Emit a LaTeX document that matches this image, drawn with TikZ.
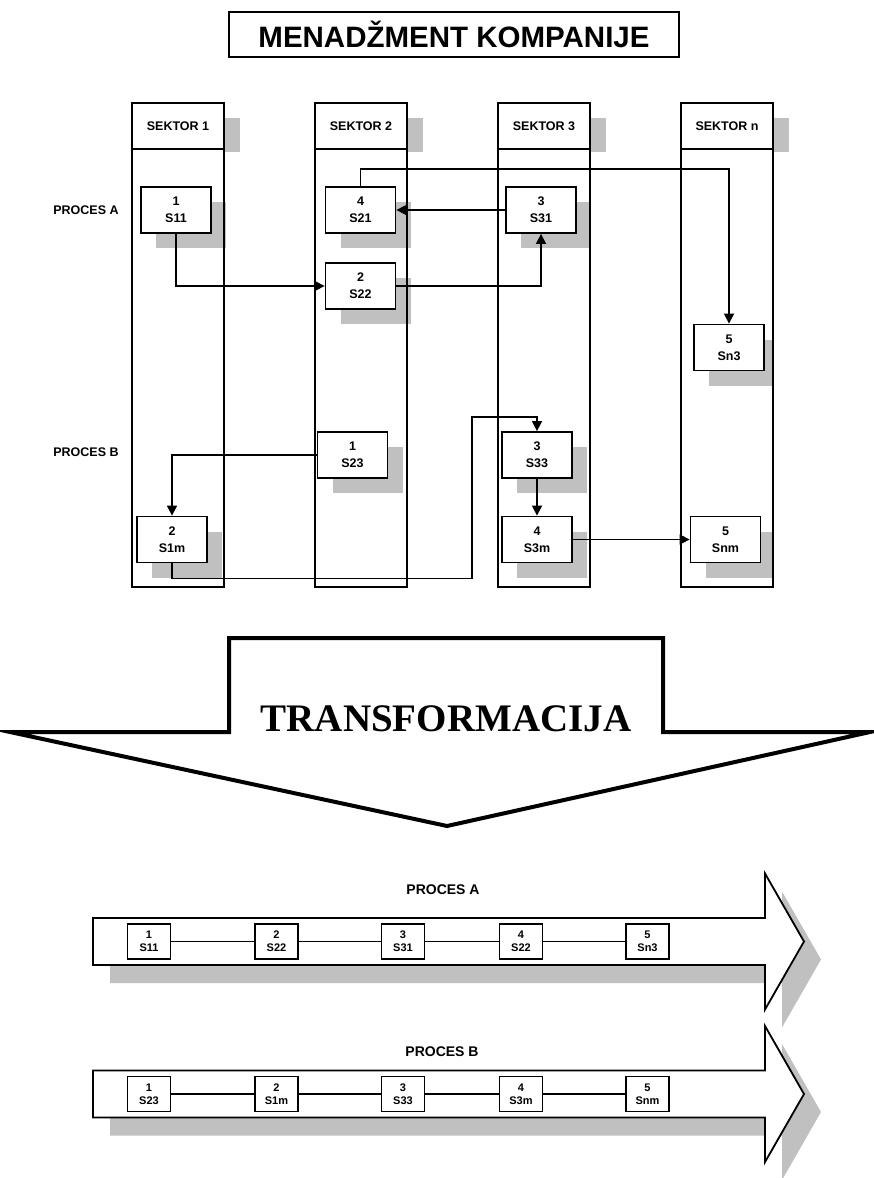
\documentclass[tikz,border=0pt]{standalone}
\usepackage{fontspec}
\setmainfont{Liberation Sans}
\newfontfamily\serifb{Liberation Serif}
\usetikzlibrary{arrows.meta,calc,shadows}
\definecolor{shadowgray}{HTML}{C0C0C0}
\begin{document}
\begin{tikzpicture}[x=1pt,y=-1pt,
 hdr/.style={draw, line width=2pt, fill=white, minimum width=92pt, minimum height=46pt, inner sep=0pt, font=\bfseries\fontsize{12.5}{15}\selectfont},
 sbox/.style={draw, line width=1.8pt, fill=white, minimum width=70pt, minimum height=46pt, inner sep=0pt, align=center, font=\bfseries\fontsize{12.5}{17}\selectfont,
   drop shadow={shadow xshift=15pt, shadow yshift=-15pt, fill=shadowgray, opacity=1}},
 pbox/.style={draw, line width=1.8pt, fill=white, minimum width=43pt, minimum height=35pt, inner sep=0pt, align=center, font=\bfseries\fontsize{11}{13}\selectfont},
 conn/.style={line width=1.6pt, -{Triangle[length=10pt,width=10pt]}},
 link/.style={line width=1.3pt},
 lbl/.style={font=\bfseries\fontsize{12.5}{15}\selectfont},
 plbl/.style={font=\bfseries\fontsize{14}{16}\selectfont},
 col/.style={line width=2.6pt},
 shade/.style={fill=shadowgray, draw=none},
]
\useasboundingbox (0,0) rectangle (873,1178);

% title
\node[draw, line width=2.5pt, minimum width=450pt, minimum height=45pt, inner sep=0pt,
  font=\bfseries\fontsize{29.5}{31}\selectfont] (title) at (454,34.5) {MENADŽMENT KOMPANIJE};

% sector columns
\foreach \cx/\t/\n in {178/SEKTOR 1/h1, 361/SEKTOR 2/h2, 544/SEKTOR 3/h3, 727/SEKTOR n/hn} {
  \fill[shade] (\cx-30,118) rectangle (\cx+62,152);
  \draw[col, fill=white] (\cx-46,149) rectangle (\cx+46,587);
  \node[hdr] (\n) at (\cx,126) {\t};
}

% process labels
\node[lbl] (pa) at (86,210) {PROCES A};
\node[lbl] (pb) at (86,452) {PROCES B};

% boxes
\node[sbox] (s11) at (176,210) {1\\S11};
\node[sbox] (s21) at (360.5,210) {4\\S21};
\node[sbox] (s22) at (360.5,286) {2\\S22};
\node[sbox] (s31) at (541,210) {3\\S31};
\node[sbox] (sn3) at (729,347.5) {5\\Sn3};
\node[sbox] (s23) at (352.5,455) {1\\S23};
\node[sbox] (s1m) at (172,539.5) {2\\S1m};
\node[sbox] (s33) at (537,455) {3\\S33};
\node[sbox] (s3m) at (537,539.5) {4\\S3m};
\node[sbox] (snm) at (725.5,539.5) {5\\Snm};
\coordinate (bend) at (472,417);

% cover shadow parts outside the last column
\fill[white] (774.3,140) rectangle (800,600);

% redraw column outlines on top
\foreach \cx in {178,361,544,727} {
  \draw[col] (\cx-46,149) rectangle (\cx+46,587);
}

% connectors process A
\draw[conn] (s11.south) |- (s22.west);
\draw[conn] (s22.east) -| (s31.south);
\draw[conn] (s31.west) -- (s21.east);
\draw[conn] (s21.north) -- ++(0,-17) -| (sn3.north);
% connectors process B
\draw[conn] (s23.west) -| (s1m.north);
\draw[conn] (s1m.south) -- ++(0,15) -| (bend) -| (s33.north);
\draw[conn] (s33.south) -- (s3m.north);
\draw[conn] (s3m.east) -- (snm.west);

% header shadow of last column (restore after white cover)
\fill[shade] (774.3,118) rectangle (789,152);

% transformation arrow
\draw[line width=4pt, line join=miter, miter limit=20] (229,638) -- (663,638) -- (663,732) -- (870,732) -- (447,826) -- (10,732) -- (229,732) -- cycle;
\node[font=\serifb\bfseries\fontsize{39}{41}\selectfont] (tr) at (446,719) {TRANSFORMACIJA};

% process arrows
\foreach \yc in {941.5,1094} {
  \fill[shade, shift={(17,18)}] (93,\yc-23.5) -- (765,\yc-23.5) -- (765,\yc-68) -- (804,\yc) -- (765,\yc+68) -- (765,\yc+23.5) -- (93,\yc+23.5) -- cycle;
  \draw[line width=1.8pt, fill=white] (93,\yc-23.5) -- (765,\yc-23.5) -- (765,\yc-68) -- (804,\yc) -- (765,\yc+68) -- (765,\yc+23.5) -- (93,\yc+23.5) -- cycle;
}
\node[plbl] (la) at (443,890) {PROCES A};
\node[plbl] (lb) at (442,1052) {PROCES B};

\node[pbox] (a1) at (149,941.5) {1\\S11};
\node[pbox] (a2) at (276.5,941.5) {2\\S22};
\node[pbox] (a3) at (403,941.5) {3\\S31};
\node[pbox] (a4) at (521,941.5) {4\\S22};
\node[pbox] (a5) at (647.5,941.5) {5\\Sn3};
\draw[link] (a1) -- (a2);
\draw[link] (a2) -- (a3);
\draw[link] (a3) -- (a4);
\draw[link] (a4) -- (a5);

\node[pbox] (b1) at (149,1094) {1\\S23};
\node[pbox] (b2) at (276.5,1094) {2\\S1m};
\node[pbox] (b3) at (403,1094) {3\\S33};
\node[pbox] (b4) at (521,1094) {4\\S3m};
\node[pbox] (b5) at (647.5,1094) {5\\Snm};
\draw[link] (b1) -- (b2);
\draw[link] (b2) -- (b3);
\draw[link] (b3) -- (b4);
\draw[link] (b4) -- (b5);
\end{tikzpicture}
\end{document}
